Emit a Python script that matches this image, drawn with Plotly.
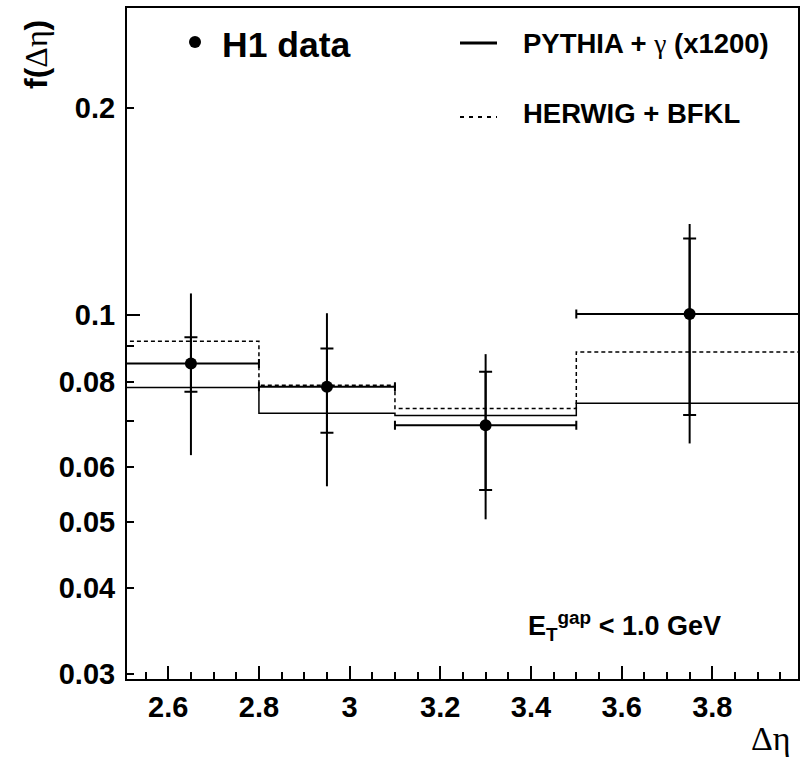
import numpy as np
import plotly.graph_objects as go

# ---- data ----
bin_edges = [2.5, 2.8, 3.1, 3.5, 4.0]
data_x = [2.65, 2.95, 3.30, 3.75]
data_y = [0.0850, 0.0786, 0.0691, 0.1003]
data_xlo = [2.5, 2.8, 3.1, 3.5]
data_xhi = [2.8, 3.1, 3.5, 4.0]
stat_hi = [0.0928, 0.0894, 0.0827, 0.1293]
stat_lo = [0.0773, 0.0674, 0.0556, 0.0715]
tot_hi = [0.1075, 0.1006, 0.0877, 0.1357]
tot_lo = [0.0625, 0.0563, 0.0504, 0.0650]
pythia = [0.0784, 0.0719, 0.0714, 0.0744]
herwig = [0.0916, 0.0790, 0.0731, 0.0883]

ytick_vals = [0.03, 0.04, 0.05, 0.06, 0.08, 0.1, 0.2]
ytick_text = ["0.03", "0.04", "0.05", "0.06", "0.08", "0.1", "0.2"]
yminor_vals = [0.07, 0.09]
xtick_vals = [2.6, 2.8, 3.0, 3.2, 3.4, 3.6, 3.8]
xtick_text = ["2.6", "2.8", "3", "3.2", "3.4", "3.6", "3.8"]

SANS = "Liberation Sans, Arial, sans-serif"
SERIF = "Liberation Serif, Times New Roman, serif"

L, T, W, H = 127, 8, 671, 671

fig = go.Figure()

def hist_xy(vals):
    return bin_edges, list(vals) + [vals[-1]]

hx, hy = hist_xy(pythia)
fig.add_trace(go.Scatter(x=hx, y=hy, mode="lines", line=dict(shape="hv", color="black", width=1.5),
                         showlegend=False, hoverinfo="skip"))
hx, hy = hist_xy(herwig)
fig.add_trace(go.Scatter(x=hx, y=hy, mode="lines", line=dict(shape="hv", color="black", width=1.5, dash="4px,3px"),
                         showlegend=False, hoverinfo="skip"))

x = np.array(data_x); y = np.array(data_y)
fig.add_trace(go.Scatter(
    x=x, y=y, mode="markers",
    marker=dict(color="black", size=12),
    error_x=dict(type="data", symmetric=False,
                 array=np.array(data_xhi) - x, arrayminus=x - np.array(data_xlo),
                 color="black", thickness=2, width=4.5),
    error_y=dict(type="data", symmetric=False,
                 array=np.array(tot_hi) - y, arrayminus=y - np.array(tot_lo),
                 color="black", thickness=2, width=0),
    showlegend=False, hoverinfo="skip"))
fig.add_trace(go.Scatter(
    x=x, y=y, mode="markers",
    marker=dict(color="black", size=1, opacity=0),
    error_y=dict(type="data", symmetric=False,
                 array=np.array(stat_hi) - y, arrayminus=y - np.array(stat_lo),
                 color="black", thickness=2, width=6.5),
    showlegend=False, hoverinfo="skip"))

yr = [np.log10(0.0295), np.log10(0.28)]
fig.update_layout(
    width=803, height=759,
    margin=dict(l=L, r=803 - L - W, t=T, b=759 - T - H, autoexpand=False),
    paper_bgcolor="white", plot_bgcolor="white",
    xaxis=dict(range=[2.509, 3.989], showgrid=False, zeroline=False, automargin=False,
               showline=True, linecolor="black", linewidth=2, mirror=True,
               ticks="inside", ticklen=13, tickwidth=2, tickcolor="black",
               tickvals=xtick_vals, ticktext=xtick_text,
               tickfont=dict(family=SANS, size=29, color="black", weight="bold"),
               ticklabelstandoff=1,
               minor=dict(dtick=0.05, tick0=2.5, ticks="inside", ticklen=7, tickwidth=2, tickcolor="black", showgrid=False)),
    yaxis=dict(type="log", range=yr, showgrid=False, zeroline=False, automargin=False,
               showline=True, linecolor="black", linewidth=2, mirror=True,
               ticks="inside", ticklen=7, tickwidth=2, tickcolor="black",
               tickvals=ytick_vals, ticktext=ytick_text,
               tickfont=dict(family=SANS, size=29, color="black", weight="bold"),
               ticklabelstandoff=4,
               minor=dict(tickvals=yminor_vals, ticks="inside", ticklen=7, tickwidth=2, tickcolor="black", showgrid=False)),
    yaxis2=dict(type="log", range=yr, overlaying="y", side="left", showgrid=False, zeroline=False,
                automargin=False, showline=False, ticks="inside", ticklen=13, tickwidth=2, tickcolor="black",
                tickvals=[0.1], showticklabels=False),
)
fig.add_trace(go.Scatter(x=[3.0], y=[0.1], mode="markers", marker=dict(opacity=0), yaxis="y2",
                         showlegend=False, hoverinfo="skip"))

def px(v):
    return (v - L) / W

def py(v):
    return (T + H - v) / H

# legend symbols (paper coordinates)
fig.add_shape(type="circle", xref="paper", yref="paper",
              x0=px(195 - 6), x1=px(195 + 6), y0=py(42 + 6), y1=py(42 - 6),
              fillcolor="black", line=dict(color="black", width=0))
fig.add_shape(type="line", xref="paper", yref="paper",
              x0=px(460), x1=px(497), y0=py(43), y1=py(43), line=dict(color="black", width=3))
fig.add_shape(type="line", xref="paper", yref="paper",
              x0=px(460), x1=px(497), y0=py(117), y1=py(117), line=dict(color="black", width=2, dash="4px,5px"))

def ann(text, x_, y_, size, family=SANS, bold=True, xanchor="left", angle=0):
    fig.add_annotation(text=text, xref="paper", yref="paper",
                       x=px(x_), y=py(y_),
                       xanchor=xanchor, yanchor="middle", showarrow=False, textangle=angle,
                       font=dict(family=family, size=size, color="black", weight="bold" if bold else "normal"))

ann("H1 data", 220, 45, 35.5)
ann("PYTHIA + <span style='font-family:Liberation Serif;font-weight:normal'>γ</span> (x1200)", 521, 43, 27.5)
ann("HERWIG + BFKL", 521, 114, 27.5)
ann("E<sub>T</sub><sup>gap</sup> < 1.0 GeV", 526, 626, 27)
ann("Δη", 771, 738, 34, family=SERIF, bold=False, xanchor="center")
ann("f(<span style='font-family:Liberation Serif;font-weight:normal'>Δη</span>)", 36, 55, 32, xanchor="center", angle=-90)

fig.write_html("out.html", config={"displayModeBar": False},
               post_script="document.body.style.margin='0';document.body.style.overflow='hidden';")
